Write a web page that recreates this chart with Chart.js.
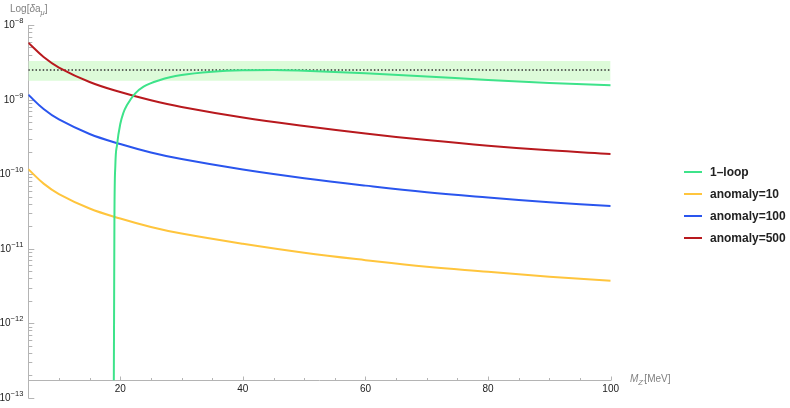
<!DOCTYPE html>
<html>
<head>
<meta charset="utf-8">
<script src="https://cdn.jsdelivr.net/npm/chart.js@4.4.1/dist/chart.umd.min.js"></script>
<style>
  body { margin: 0; background: #fff; }
  #wrap { position: relative; width: 790px; height: 408px; }
  .axt { position: absolute; font: 10px "Liberation Sans", Arial, sans-serif; color: #808080; white-space: nowrap; }
  .axt sub { font-size: 7.5px; vertical-align: -3px; }
  #legend { position: absolute; left: 684px; top: 161px; font: bold 12px "Liberation Sans", Arial, sans-serif; color: #222; }
  #legend .row { height: 21.9px; display: flex; align-items: center; }
  #legend .sw { display: inline-block; width: 18px; height: 2px; margin-right: 8px; }
</style>
</head>
<body>
<div id="wrap">
  <canvas id="chart" width="790" height="408"></canvas>
  <div class="axt" style="left:10px; top:3px;">Log[<i>δ</i>a<sub><i>μ</i></sub>]</div>
  <div class="axt" style="left:630px; top:373px;"><i>M</i><sub><i>Z'</i></sub>[MeV]</div>
  <div id="legend"></div>
</div>
<script>
// M_Z' in MeV
const massX = [5, 7.5, 10, 15, 20, 25, 30, 40, 50, 60, 70, 80, 90, 100];
const anomaly10 = [1.16e-10, 7.45e-11, 5.4e-11, 3.45e-11, 2.53e-11, 1.95e-11, 1.59e-11, 1.16e-11, 8.8e-12, 7.0e-12, 5.7e-12, 4.9e-12, 4.2e-12, 3.7e-12];
const anomaly100 = [1.16e-9, 7.45e-10, 5.4e-10, 3.45e-10, 2.53e-10, 1.95e-10, 1.59e-10, 1.15e-10, 8.8e-11, 7.0e-11, 5.7e-11, 4.85e-11, 4.2e-11, 3.72e-11];
const anomaly500 = [5.79e-9, 3.72e-9, 2.69e-9, 1.72e-9, 1.26e-9, 9.76e-10, 7.93e-10, 5.73e-10, 4.41e-10, 3.5e-10, 2.86e-10, 2.4e-10, 2.08e-10, 1.86e-10];

const loopX = [18.95, 19.0, 19.05, 19.2, 19.47, 20.0, 20.5, 21.1, 22.45, 23.8, 26.5, 30, 35, 40, 45, 50, 60, 70, 80, 90, 100];
const oneLoop = [1.72e-13, 2.04e-12, 2.65e-11, 1.32e-10, 2.45e-10, 4.69e-10, 6.59e-10, 8.44e-10, 1.21e-9, 1.49e-9, 1.83e-9, 2.13e-9, 2.36e-9, 2.47e-9, 2.49e-9, 2.43e-9, 2.25e-9, 2.04e-9, 1.83e-9, 1.67e-9, 1.55e-9];

// measured g-2 discrepancy and its band
const bandX = [5, 100];
const deltaCentral = 2.49e-9;
const bandLow = 1.79e-9;
const bandHigh = 3.29e-9;

const yDecades = [-13, -12, -11, -10, -9, -8];
const xMin = 5, xMax = 100;
const xAxisAt = 1.72e-13;

const yTickValues = [];
yDecades.forEach(d => {
  for (let k = 1; k <= 9; k++) {
    if (d === -8 && k > 1) break;
    yTickValues.push(Number((k * Math.pow(10, d)).toPrecision(3)));
  }
});
const isDecade = v => Math.abs(Math.log10(v) - Math.round(Math.log10(v))) < 1e-6;

const series = [
  { label: '1\u2013loop', color: '#3ee38a', x: loopX, y: oneLoop, mono: true },
  { label: 'anomaly=10', color: '#ffc53d', x: massX, y: anomaly10 },
  { label: 'anomaly=100', color: '#2a55ee', x: massX, y: anomaly100 },
  { label: 'anomaly=500', color: '#b8191e', x: massX, y: anomaly500 }
];

const pts = (xs, ys) => xs.map((x, i) => ({ x: x, y: ys[i] }));

const datasets = series.map(s => ({
  label: s.label,
  data: pts(s.x, s.y),
  borderColor: s.color,
  borderWidth: 2,
  pointRadius: 0,
  fill: false,
  tension: 0.4,
  cubicInterpolationMode: s.mono ? 'monotone' : 'default',
  order: 1
}));

datasets.push({
  label: 'central',
  data: pts(bandX, [deltaCentral, deltaCentral]),
  borderColor: '#333',
  borderWidth: 1.5,
  borderDash: [1.5, 2.1],
  pointRadius: 0,
  fill: false,
  order: 2
});
datasets.push({
  label: 'band',
  data: pts(bandX, [bandHigh, bandHigh]),
  borderWidth: 0,
  borderColor: 'rgba(0,0,0,0)',
  backgroundColor: '#ddfbd9',
  pointRadius: 0,
  fill: { value: bandLow },
  order: 3
});

const axisColor = '#b4b4b4';
const fontFam = '"Liberation Sans", Arial, sans-serif';

// Mathematica-style ticks inside the frame, and 10^n labels with a real exponent
const innerTicks = {
  id: 'innerTicks',
  beforeDatasetsDraw(chart) {
    const { ctx, scales: { x, y } } = chart;
    ctx.save();
    ctx.strokeStyle = axisColor;
    ctx.lineWidth = 1;
    ctx.beginPath();
    const x0 = x.left;
    y.ticks.forEach(t => {
      const py = Math.round(y.getPixelForValue(t.value)) + 0.5;
      const len = isDecade(t.value) ? 6 : 4;
      ctx.moveTo(x0, py);
      ctx.lineTo(x0 + len, py);
    });
    const ay = Math.round(y.getPixelForValue(xAxisAt)) + 0.5;
    x.ticks.forEach(t => {
      if (t.value <= xMin) return;
      const px = Math.round(x.getPixelForValue(t.value)) + 0.5;
      const len = t.value % 20 === 0 ? 4 : 2.5;
      ctx.moveTo(px, ay);
      ctx.lineTo(px, ay - len);
    });
    ctx.stroke();

    ctx.fillStyle = '#222';
    ctx.textBaseline = 'middle';
    const right = x0 - 5;
    yDecades.forEach(d => {
      const py = y.getPixelForValue(Math.pow(10, d));
      const exp = '\u2212' + Math.abs(d);
      ctx.font = '7.5px ' + fontFam;
      const we = ctx.measureText(exp).width;
      ctx.textAlign = 'left';
      ctx.fillText(exp, right - we, py - 4);
      ctx.font = '10px ' + fontFam;
      ctx.textAlign = 'right';
      ctx.fillText('10', right - we, py + 0.5);
    });
    ctx.restore();
  }
};

new Chart(document.getElementById('chart'), {
  type: 'line',
  data: { datasets: datasets },
  plugins: [innerTicks],
  options: {
    responsive: false,
    animation: false,
    layout: { padding: { left: 0, right: 179.3, top: 25, bottom: 10.3 } },
    plugins: { legend: { display: false }, tooltip: { enabled: false } },
    scales: {
      x: {
        type: 'linear',
        min: xMin,
        max: xMax,
        position: { y: xAxisAt },
        grid: { drawOnChartArea: false, drawTicks: false },
        border: { display: true, color: axisColor, width: 1 },
        ticks: {
          stepSize: 5,
          autoSkip: false,
          maxRotation: 0,
          padding: 3,
          color: '#222',
          font: { family: fontFam, size: 10 },
          callback: v => (v % 20 === 0 ? String(v) : '')
        }
      },
      y: {
        type: 'logarithmic',
        min: Math.pow(10, yDecades[0]),
        max: Math.pow(10, yDecades[yDecades.length - 1]),
        position: 'left',
        afterBuildTicks: scale => { scale.ticks = yTickValues.map(v => ({ value: v })); },
        afterFit: scale => { scale.width = 28.3; },
        grid: { drawOnChartArea: false, drawTicks: false },
        border: { display: true, color: axisColor, width: 1 },
        ticks: { autoSkip: false, callback: () => '' }
      }
    }
  }
});

const legend = document.getElementById('legend');
series.forEach(s => {
  const row = document.createElement('div');
  row.className = 'row';
  const sw = document.createElement('span');
  sw.className = 'sw';
  sw.style.background = s.color;
  row.appendChild(sw);
  row.appendChild(document.createTextNode(s.label));
  legend.appendChild(row);
});
</script>
</body>
</html>
